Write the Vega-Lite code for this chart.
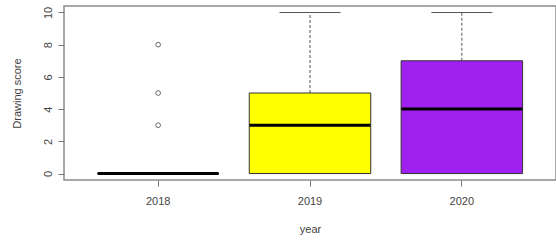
{
  "$schema": "https://vega.github.io/schema/vega-lite/v6.json",
  "autosize": {"type": "none"},
  "padding": {"left": 64, "top": 6, "right": 0, "bottom": 60},
  "width": 492,
  "height": 174,
  "background": "white",
  "config": {
    "view": {"stroke": "#8c8c8c", "strokeWidth": 1.5},
    "font": "Liberation Sans",
    "axis": {
      "domain": false,
      "grid": false,
      "tickColor": "#777",
      "tickSize": 6,
      "labelFont": "Liberation Sans",
      "titleFont": "Liberation Sans",
      "labelFontSize": 11,
      "titleFontSize": 11,
      "titleFontWeight": "normal",
      "labelColor": "#444",
      "titleColor": "#444",
      "labelOverlap": false,
      "labelFlush": false,
      "labelBound": false
    }
  },
  "datasets": {
    "stats": [
      {"year": "2018", "lower": 0, "q1": 0, "median": 0, "q3": 0, "upper": 0},
      {"year": "2019", "lower": 0, "q1": 0, "median": 3, "q3": 5, "upper": 10},
      {"year": "2020", "lower": 0, "q1": 0, "median": 4, "q3": 7, "upper": 10}
    ],
    "outliers": [
      {"year": "2018", "score": 3},
      {"year": "2018", "score": 5},
      {"year": "2018", "score": 8}
    ]
  },
  "encoding": {
    "x": {
      "field": "year",
      "type": "nominal",
      "scale": {"domain": ["2018", "2019", "2020"], "paddingInner": 0.2, "paddingOuter": 0.22},
      "axis": {"title": "year", "labelAngle": 0, "labelPadding": 9, "titlePadding": 17}
    }
  },
  "layer": [
    {
      "data": {"name": "stats"},
      "mark": {"type": "rule", "strokeDash": [3, 2], "color": "#555", "strokeWidth": 1},
      "encoding": {
        "y": {
          "field": "q3",
          "type": "quantitative",
          "scale": {"domain": [-0.4, 10.4], "nice": false, "zero": false},
          "axis": {
            "title": "Drawing score",
            "values": [0, 2, 4, 6, 8, 10],
            "tickCount": 6,
            "labelAngle": -90,
            "labelAlign": "center",
            "labelBaseline": "bottom",
            "labelPadding": 5,
            "titlePadding": 20
          }
        },
        "y2": {"field": "upper"}
      }
    },
    {
      "data": {"name": "stats"},
      "mark": {"type": "tick", "size": 61, "thickness": 1, "color": "#555", "opacity": 1},
      "encoding": {
        "y": {"field": "upper", "type": "quantitative", "axis": {"title": "Drawing score", "values": [0, 2, 4, 6, 8, 10], "tickCount": 6}}
      }
    },
    {
      "data": {"name": "stats"},
      "mark": {"type": "bar", "stroke": "#333", "strokeWidth": 1, "orient": "vertical", "opacity": 1},
      "encoding": {
        "y": {"field": "q1", "type": "quantitative", "axis": {"title": "Drawing score", "values": [0, 2, 4, 6, 8, 10], "tickCount": 6}},
        "y2": {"field": "q3"},
        "fill": {
          "field": "year",
          "type": "nominal",
          "scale": {"domain": ["2018", "2019", "2020"], "range": ["#ffffff", "#ffff00", "#a020f0"]},
          "legend": null
        }
      }
    },
    {
      "data": {"name": "stats"},
      "mark": {"type": "tick", "size": 121, "thickness": 3, "color": "#000", "opacity": 1},
      "encoding": {
        "y": {"field": "median", "type": "quantitative", "axis": {"title": "Drawing score", "values": [0, 2, 4, 6, 8, 10], "tickCount": 6}}
      }
    },
    {
      "data": {"name": "outliers"},
      "mark": {"type": "point", "shape": "circle", "filled": false, "size": 22, "stroke": "#666", "strokeWidth": 1, "opacity": 1},
      "encoding": {
        "y": {"field": "score", "type": "quantitative", "axis": {"title": "Drawing score", "values": [0, 2, 4, 6, 8, 10], "tickCount": 6}}
      }
    }
  ]
}
